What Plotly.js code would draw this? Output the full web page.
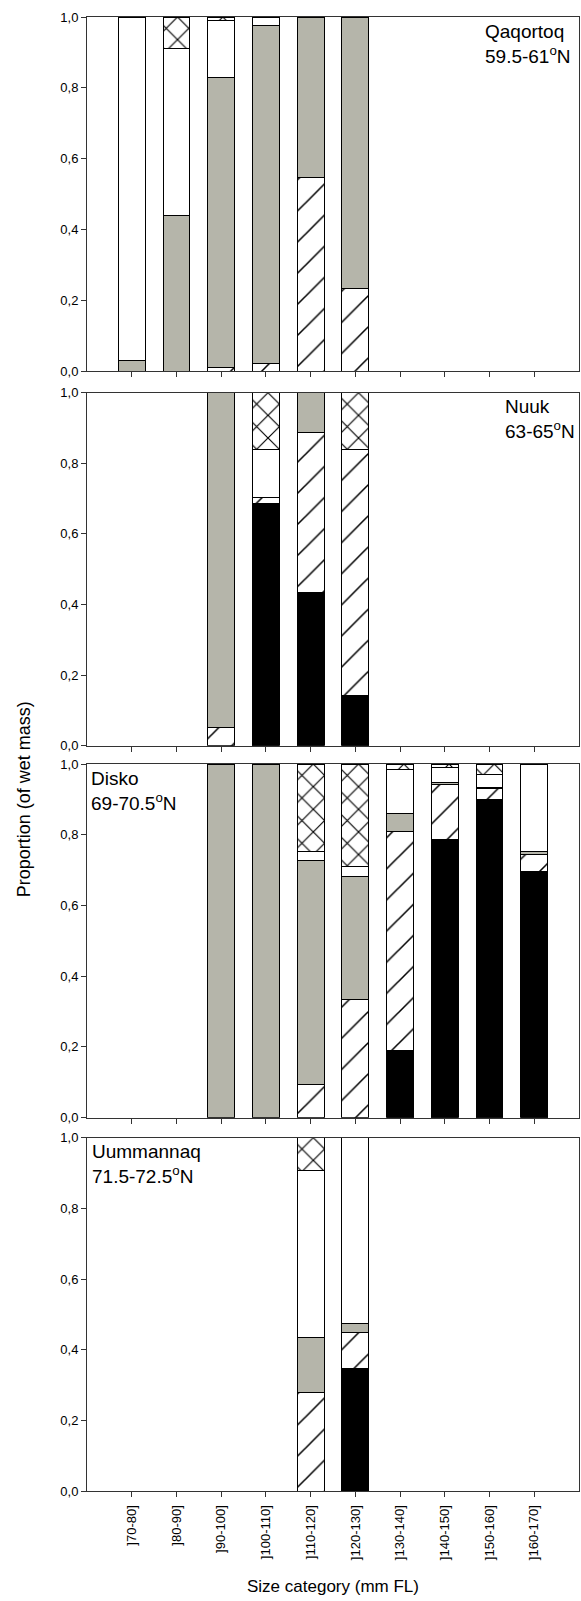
<!DOCTYPE html>
<html>
<head>
<meta charset="utf-8">
<script src="https://cdn.plot.ly/plotly-3.0.1.min.js"></script>
<style>
  html, body { margin: 0; padding: 0; background: #ffffff; }
  #chart { width: 581px; height: 1601px; }
</style>
</head>
<body>
<div id="chart"></div>
<script>
// Size classes (fork length, mm)
const sizeClasses = [']70-80]', ']80-90]', ']90-100]', ']100-110]', ']110-120]',
                     ']120-130]', ']130-140]', ']140-150]', ']150-160]', ']160-170]'];

// Proportion of wet mass per diet component, stacked bottom to top:
// solid (black), hatched, grey, open (white), cross-hatched.
const qaqortoqSolid = [null, null, null, null, null, null, null, null, null, null];
const qaqortoqHatch = [null, null, 0.01, 0.02, 0.546, 0.233, null, null, null, null];
const qaqortoqGrey  = [0.03, 0.44, 0.82, 0.955, 0.454, 0.767, null, null, null, null];
const qaqortoqOpen  = [0.97, 0.47, 0.16, 0.025, null, null, null, null, null, null];
const qaqortoqCross = [null, 0.09, 0.01, null, null, null, null, null, null, null];

const nuukSolid = [null, null, null, 0.685, 0.434, 0.141, null, null, null, null];
const nuukHatch = [null, null, 0.051, 0.018, 0.454, 0.697, null, null, null, null];
const nuukGrey  = [null, null, 0.949, null, 0.112, null, null, null, null, null];
const nuukOpen  = [null, null, null, 0.137, null, null, null, null, null, null];
const nuukCross = [null, null, null, 0.16, null, 0.162, null, null, null, null];

const diskoSolid = [null, null, null, null, null, null, 0.191, 0.787, 0.90, 0.695];
const diskoHatch = [null, null, null, null, 0.095, 0.333, 0.618, 0.156, 0.031, 0.05];
const diskoGrey  = [null, null, 1.0, 1.0, 0.631, 0.35, 0.051, 0.004, 0.003, 0.008];
const diskoOpen  = [null, null, null, null, 0.028, 0.026, 0.125, 0.043, 0.037, 0.247];
const diskoCross = [null, null, null, null, 0.246, 0.291, 0.015, 0.01, 0.029, null];

const uummannaqSolid = [null, null, null, null, null, 0.346, null, null, null, null];
const uummannaqHatch = [null, null, null, null, 0.279, 0.102, null, null, null, null];
const uummannaqGrey  = [null, null, null, null, 0.155, 0.027, null, null, null, null];
const uummannaqOpen  = [null, null, null, null, 0.474, 0.525, null, null, null, null];
const uummannaqCross = [null, null, null, null, 0.092, null, null, null, null, null];

const regionNames = ['Qaqortoq', 'Nuuk', 'Disko', 'Uummannaq'];
const regionLatitudes = ['59.5-61', '63-65', '69-70.5', '71.5-72.5'];

const regionSeries = [
  [qaqortoqSolid, qaqortoqHatch, qaqortoqGrey, qaqortoqOpen, qaqortoqCross],
  [nuukSolid, nuukHatch, nuukGrey, nuukOpen, nuukCross],
  [diskoSolid, diskoHatch, diskoGrey, diskoOpen, diskoCross],
  [uummannaqSolid, uummannaqHatch, uummannaqGrey, uummannaqOpen, uummannaqCross]
];

// Fill styles for the five stacked components
const outline = { color: '#000000', width: 1 };
const layerMarkers = [
  { color: '#000000', line: outline },
  { color: '#ffffff', line: outline,
    pattern: { shape: '/', fgcolor: '#000000', bgcolor: '#ffffff', size: 22, solidity: 0.07 } },
  { color: '#b5b5aa', line: outline },
  { color: '#ffffff', line: outline },
  { color: '#ffffff', line: outline,
    pattern: { shape: 'x', fgcolor: '#000000', bgcolor: '#ffffff', size: 16, solidity: 0.14 } }
];

const FONT = '"Liberation Sans", Arial, sans-serif';
const axisColor = '#333333';

// Vertical extent of each panel (paper fraction)
const panelDomains = [[0.7598, 1.0], [0.5056, 0.7451], [0.2533, 0.4932], [0.0, 0.2397]];

const traces = [];
regionSeries.forEach((series, p) => {
  const suffix = p === 0 ? '' : String(p + 1);
  series.forEach((vals, k) => {
    traces.push({
      type: 'bar',
      x: sizeClasses,
      y: vals,
      xaxis: 'x' + suffix,
      yaxis: 'y' + suffix,
      marker: layerMarkers[k],
      hoverinfo: 'skip',
      showlegend: false
    });
  });
});

const layout = {
  width: 581,
  height: 1601,
  margin: { l: 87, r: 2, t: 17, b: 110, pad: 0 },
  paper_bgcolor: '#ffffff',
  plot_bgcolor: '#ffffff',
  barmode: 'stack',
  bargap: 0.4,
  separators: ',.',
  font: { family: FONT, size: 13, color: '#000000' },
  showlegend: false,
  annotations: []
};

panelDomains.forEach((dom, p) => {
  const suffix = p === 0 ? '' : String(p + 1);
  const isBottom = p === panelDomains.length - 1;
  layout['xaxis' + suffix] = {
    type: 'category',
    categoryorder: 'array',
    categoryarray: sizeClasses,
    range: [-1, 10],
    anchor: 'y' + suffix,
    domain: [0, 1],
    showline: true,
    mirror: true,
    linecolor: axisColor,
    linewidth: 1,
    ticks: 'outside',
    ticklen: 5,
    tickcolor: axisColor,
    showgrid: false,
    zeroline: false,
    showticklabels: isBottom,
    tickangle: -90,
    ticklabelstandoff: 3,
    tickfont: { family: FONT, size: 13, color: '#000000' }
  };
  layout['yaxis' + suffix] = {
    domain: dom,
    anchor: 'x' + suffix,
    range: [0, 1],
    tick0: 0,
    dtick: 0.2,
    tickformat: '.1f',
    showline: true,
    mirror: true,
    linecolor: axisColor,
    linewidth: 1,
    ticks: 'outside',
    ticklen: 5,
    tickcolor: axisColor,
    showgrid: false,
    zeroline: false,
    tickfont: { family: FONT, size: 13, color: '#000000' }
  };
});

// Region labels inside each panel
const labelPlacement = [
  { x: 0.988, xanchor: 'right' },
  { x: 0.995, xanchor: 'right' },
  { x: 0.004, xanchor: 'left' },
  { x: 0.007, xanchor: 'left' }
];
regionNames.forEach((name, p) => {
  const suffix = p === 0 ? '' : String(p + 1);
  layout.annotations.push({
    xref: 'x' + suffix + ' domain',
    yref: 'y' + suffix + ' domain',
    x: labelPlacement[p].x,
    xanchor: labelPlacement[p].xanchor,
    y: 0.995,
    yanchor: 'top',
    align: 'left',
    showarrow: false,
    text: name + '<br>' + regionLatitudes[p] + '<sup>o</sup>N',
    font: { family: FONT, size: 19, color: '#000000' }
  });
});

// Shared axis titles
layout.annotations.push({
  xref: 'paper', yref: 'paper',
  x: 0.5, y: -0.0651, xanchor: 'center', yanchor: 'middle',
  showarrow: false,
  text: 'Size category (mm FL)',
  font: { family: FONT, size: 17, color: '#000000' }
});
layout.annotations.push({
  xref: 'paper', yref: 'paper',
  x: -0.129, y: 0.469, xanchor: 'center', yanchor: 'middle',
  textangle: -90,
  showarrow: false,
  text: 'Proportion (of wet mass)',
  font: { family: FONT, size: 18, color: '#000000' }
});

Plotly.newPlot('chart', traces, layout, { staticPlot: true, displayModeBar: false });
</script>
</body>
</html>
